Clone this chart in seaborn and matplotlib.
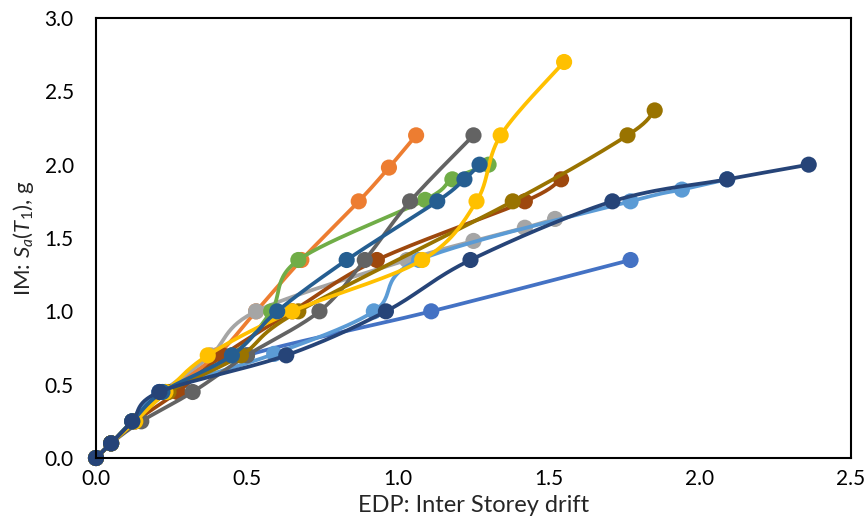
import numpy as np
import pandas as pd
import matplotlib
matplotlib.use("Agg")
import matplotlib.pyplot as plt
import seaborn as sns

# ---- data: (EDP drift, IM Sa) per record ----
rec_blue_x = [0.0, 0.05, 0.12, 0.21, 0.50, 1.11, 1.77]
rec_blue_y = [0.0, 0.10, 0.25, 0.45, 0.70, 1.00, 1.35]

rec_orange_x = [0.0, 0.05, 0.12, 0.23, 0.40, 0.53, 0.68, 0.87, 0.97, 1.06]
rec_orange_y = [0.0, 0.10, 0.25, 0.45, 0.70, 1.00, 1.35, 1.75, 1.98, 2.20]

rec_gray_x = [0.0, 0.05, 0.12, 0.22, 0.38, 0.53, 1.03, 1.25, 1.42, 1.52]
rec_gray_y = [0.0, 0.10, 0.25, 0.45, 0.70, 1.00, 1.35, 1.48, 1.57, 1.63]

rec_ltblue_x = [0.0, 0.05, 0.12, 0.21, 0.59, 0.92, 1.07, 1.77, 1.94, 2.09]
rec_ltblue_y = [0.0, 0.10, 0.25, 0.45, 0.71, 1.00, 1.35, 1.75, 1.83, 1.90]

rec_green_x = [0.0, 0.05, 0.12, 0.23, 0.45, 0.58, 0.67, 1.09, 1.18, 1.30]
rec_green_y = [0.0, 0.10, 0.25, 0.45, 0.70, 1.00, 1.35, 1.76, 1.90, 2.00]

rec_brown_x = [0.0, 0.05, 0.13, 0.27, 0.42, 0.65, 0.93, 1.42, 1.54]
rec_brown_y = [0.0, 0.10, 0.25, 0.45, 0.70, 1.00, 1.35, 1.75, 1.90]

rec_dkgray_x = [0.0, 0.05, 0.15, 0.32, 0.50, 0.74, 0.89, 1.04, 1.25]
rec_dkgray_y = [0.0, 0.10, 0.25, 0.45, 0.70, 1.00, 1.35, 1.75, 2.20]

rec_dkgold_x = [0.0, 0.05, 0.13, 0.24, 0.48, 0.67, 1.38, 1.76, 1.85]
rec_dkgold_y = [0.0, 0.10, 0.25, 0.45, 0.70, 1.00, 1.75, 2.20, 2.37]

rec_yellow_x = [0.0, 0.05, 0.13, 0.23, 0.37, 0.65, 1.08, 1.26, 1.34, 1.55]
rec_yellow_y = [0.0, 0.10, 0.25, 0.45, 0.70, 1.00, 1.35, 1.75, 2.20, 2.70]

rec_steel_x = [0.0, 0.05, 0.12, 0.22, 0.45, 0.60, 0.83, 1.13, 1.22, 1.27]
rec_steel_y = [0.0, 0.10, 0.25, 0.45, 0.70, 1.00, 1.35, 1.75, 1.90, 2.00]

rec_navy_x = [0.0, 0.05, 0.12, 0.21, 0.63, 0.96, 1.24, 1.71, 2.09, 2.36]
rec_navy_y = [0.0, 0.10, 0.25, 0.45, 0.70, 1.00, 1.35, 1.75, 1.90, 2.00]

series = [
    ("R1", rec_blue_x, rec_blue_y, "#4472C4"),
    ("R2", rec_orange_x, rec_orange_y, "#ED7D31"),
    ("R3", rec_gray_x, rec_gray_y, "#A5A5A5"),
    ("R4", rec_ltblue_x, rec_ltblue_y, "#5B9BD5"),
    ("R5", rec_green_x, rec_green_y, "#70AD47"),
    ("R6", rec_brown_x, rec_brown_y, "#9E480E"),
    ("R7", rec_dkgray_x, rec_dkgray_y, "#636363"),
    ("R8", rec_dkgold_x, rec_dkgold_y, "#997300"),
    ("R9", rec_yellow_x, rec_yellow_y, "#FFC000"),
    ("R10", rec_steel_x, rec_steel_y, "#255E91"),
    ("R11", rec_navy_x, rec_navy_y, "#264478"),
]

x_ticks = [0.0, 0.5, 1.0, 1.5, 2.0, 2.5]
y_ticks = [0.0, 0.5, 1.0, 1.5, 2.0, 2.5, 3.0]


def smooth(xs, ys, n=30):
    """Excel-style smoothed line rendering (cubic Bezier, Catmull-Rom tangents)."""
    p = np.column_stack([xs, ys]).astype(float)
    m = len(p)
    out = [p[0]]
    t = np.linspace(0, 1, n)[1:, None]
    for i in range(m - 1):
        p0 = p[i - 1] if i > 0 else p[i]
        p1 = p[i]
        p2 = p[i + 1]
        p3 = p[i + 2] if i + 2 < m else p[i + 1]
        c1 = p1 + (p2 - p0) / 6.0
        c2 = p2 - (p3 - p1) / 6.0
        seg = ((1 - t) ** 3) * p1 + 3 * ((1 - t) ** 2) * t * c1 + 3 * (1 - t) * t ** 2 * c2 + t ** 3 * p2
        out.extend(seg)
    out = np.array(out)
    return out[:, 0], out[:, 1]


sns.set_style("white")
plt.rcParams["font.family"] = ["Lato", "DejaVu Sans"]
plt.rcParams["mathtext.fontset"] = "custom"
plt.rcParams["mathtext.rm"] = "Lato"
plt.rcParams["mathtext.it"] = "Lato:italic"

fig = plt.figure(figsize=(8.66, 5.32), dpi=100)
ax = fig.add_axes([96 / 866, 1 - 458 / 532, (851 - 96) / 866, (458 - 18) / 532])

for z, (name, xs, ys, col) in enumerate(series):
    sx, sy = smooth(xs, ys)
    line_df = pd.DataFrame({"x": sx, "y": sy})
    sns.lineplot(data=line_df, x="x", y="y", ax=ax, color=col, linewidth=2.7,
                 sort=False, estimator=None, zorder=2 + z * 0.01)
    pt_df = pd.DataFrame({"x": xs, "y": ys})
    sns.scatterplot(data=pt_df, x="x", y="y", ax=ax, color=col, s=135,
                    edgecolor="none", zorder=2 + z * 0.01 + 0.005, clip_on=False)

ax.set_xlim(0, 2.5)
ax.set_ylim(0, 3.0)
ax.set_xticks(x_ticks)
ax.set_yticks(y_ticks)
ax.set_xticklabels([f"{v:.1f}" for v in x_ticks])
ax.set_yticklabels([f"{v:.1f}" for v in y_ticks])
ax.tick_params(axis="both", length=0, labelsize=15, colors="black")
ax.tick_params(axis="x", pad=8)
ax.tick_params(axis="y", pad=16)
ax.set_xlabel("EDP: Inter Storey drift", fontsize=17, labelpad=4)
ax.set_ylabel(r"IM: $S_a$($T_1$), g", fontsize=16, labelpad=6)
for sp in ax.spines.values():
    sp.set_visible(True)
    sp.set_color("black")
    sp.set_linewidth(1.5)
ax.grid(False)

fig.savefig("out.png", dpi=100)
